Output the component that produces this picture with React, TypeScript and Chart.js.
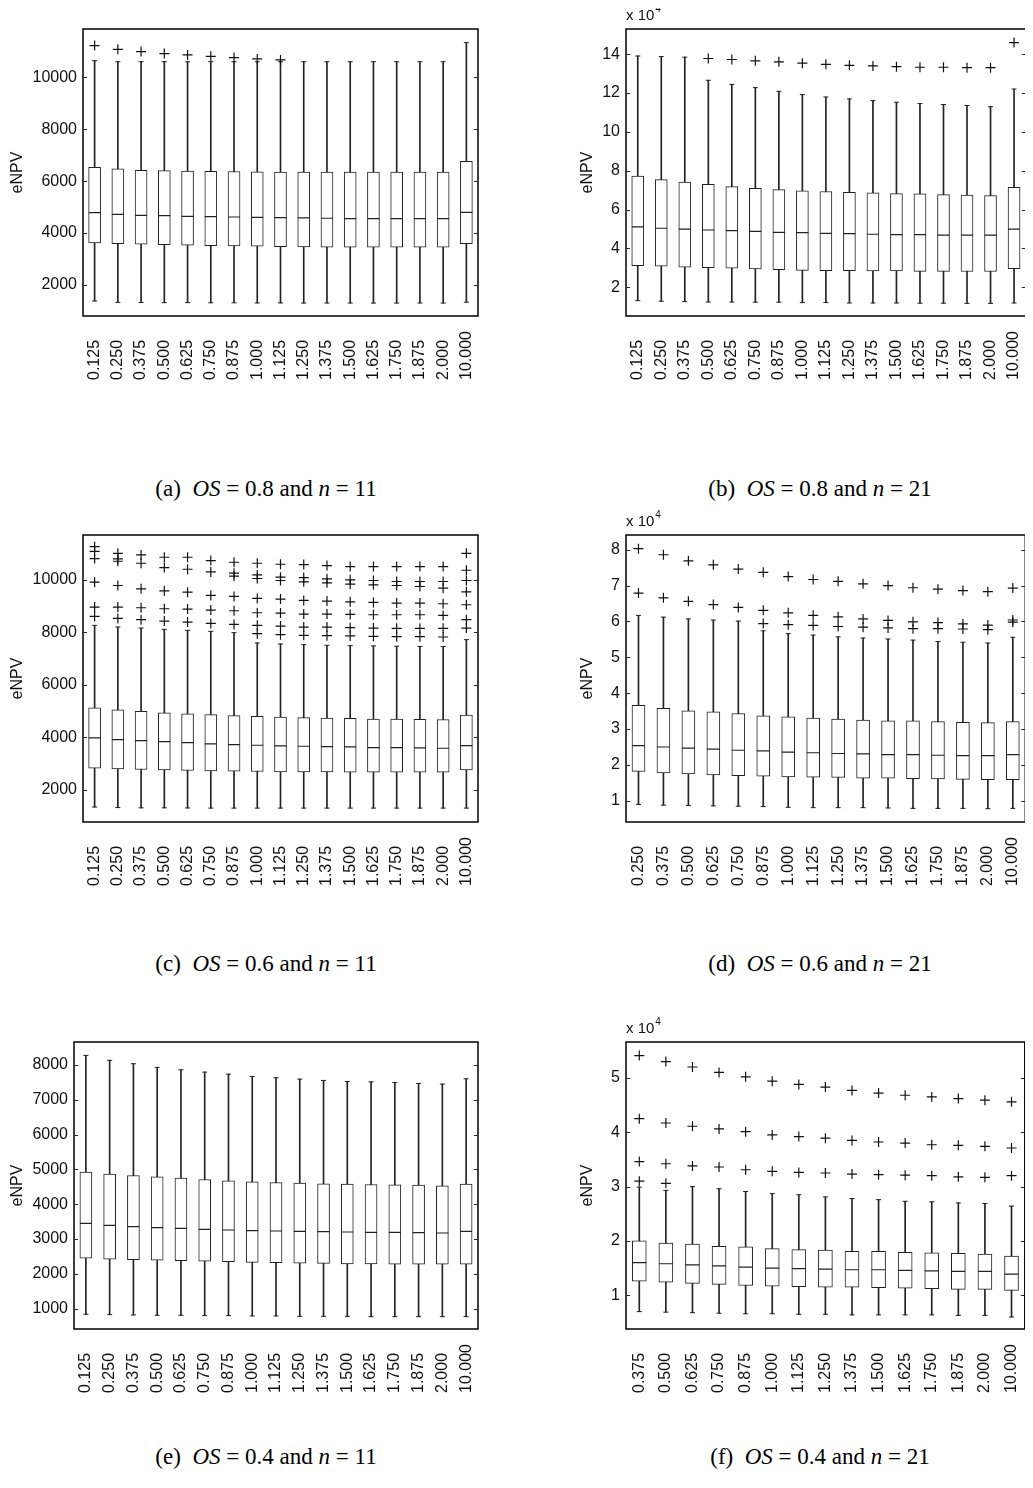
import { useEffect, useRef } from 'react';
import Chart from 'chart.js/auto';

const labels17 = ['0.125', '0.250', '0.375', '0.500', '0.625', '0.750', '0.875', '1.000', '1.125', '1.250', '1.375', '1.500', '1.625', '1.750', '1.875', '2.000', '10.000'];
const labels16 = labels17.slice(1);
const labels15 = labels17.slice(2);

// (a) OS = 0.8, n = 11
const aLo = [1384, 1330, 1325, 1320, 1320, 1315, 1315, 1310, 1310, 1305, 1305, 1305, 1305, 1305, 1305, 1305, 1340];
const aQ1 = [3619, 3593, 3568, 3555, 3530, 3517, 3505, 3492, 3480, 3467, 3455, 3455, 3455, 3455, 3455, 3455, 3593];
const aMed = [4787, 4723, 4684, 4671, 4646, 4633, 4620, 4608, 4595, 4582, 4570, 4556, 4556, 4556, 4556, 4556, 4800];
const aQ3 = [6533, 6470, 6418, 6405, 6392, 6380, 6370, 6360, 6353, 6353, 6353, 6353, 6353, 6353, 6353, 6353, 6764];
const aHi = [10642, 10600, 10600, 10600, 10600, 10600, 10600, 10600, 10600, 10600, 10600, 10600, 10600, 10600, 10600, 10600, 11335];
const aOut = [[11220], [11079], [10989], [10912], [10860], [10809], [10758], [10706], [10668], [], [], [], [], [], [], [], []];

// (b) OS = 0.8, n = 21 (x 10^4)
const bLo = [1.31, 1.28, 1.26, 1.24, 1.24, 1.23, 1.23, 1.21, 1.21, 1.19, 1.19, 1.19, 1.18, 1.18, 1.17, 1.17, 1.19];
const bQ1 = [3.11, 3.08, 3.03, 3.01, 2.98, 2.94, 2.91, 2.87, 2.86, 2.86, 2.84, 2.84, 2.82, 2.82, 2.81, 2.81, 2.96];
const bMed = [5.11, 5.04, 4.99, 4.95, 4.92, 4.88, 4.83, 4.81, 4.78, 4.76, 4.73, 4.71, 4.71, 4.69, 4.68, 4.68, 4.99];
const bQ3 = [7.72, 7.54, 7.42, 7.30, 7.18, 7.10, 7.03, 6.96, 6.93, 6.89, 6.86, 6.82, 6.81, 6.77, 6.75, 6.72, 7.15];
const bHi = [13.91, 13.88, 13.85, 12.66, 12.45, 12.28, 12.09, 11.92, 11.80, 11.70, 11.61, 11.53, 11.46, 11.41, 11.36, 11.30, 12.21];
const bOut = [[], [], [], [13.78], [13.73], [13.66], [13.61], [13.54], [13.48], [13.43], [13.40], [13.36], [13.33], [13.33], [13.31], [13.31], [14.60]];

// (c) OS = 0.6, n = 11
const cLo = [1340, 1320, 1310, 1310, 1305, 1300, 1300, 1300, 1300, 1300, 1300, 1300, 1300, 1300, 1300, 1300, 1300];
const cQ1 = [2822, 2797, 2771, 2759, 2733, 2721, 2708, 2695, 2683, 2683, 2683, 2670, 2670, 2670, 2670, 2670, 2759];
const cMed = [3974, 3911, 3873, 3835, 3797, 3746, 3721, 3695, 3670, 3657, 3645, 3632, 3607, 3607, 3595, 3582, 3683];
const cQ3 = [5126, 5050, 4987, 4936, 4898, 4860, 4822, 4797, 4771, 4746, 4733, 4721, 4695, 4695, 4683, 4670, 4847];
const cHi = [8266, 8202, 8164, 8114, 8076, 8037, 7987, 7595, 7557, 7532, 7506, 7493, 7481, 7470, 7460, 7460, 7721];
const cOut = [
  [11266, 11089, 10810, 9911, 8962, 8607],
  [11013, 10798, 10709, 9785, 8962, 8531],
  [10950, 10633, 9658, 8937, 8481],
  [10861, 10468, 9582, 8899, 8430],
  [10861, 10405, 9532, 8886, 8392],
  [10734, 10304, 9405, 8848, 8341],
  [10671, 10253, 10139, 9367, 8823, 8303],
  [10633, 10190, 10051, 9291, 8747, 8266, 7949],
  [10595, 10101, 9975, 9266, 8734, 8240, 7911],
  [10582, 10089, 9924, 9215, 8696, 8202, 7886],
  [10544, 10038, 9886, 9190, 8696, 8202, 7873],
  [10506, 10000, 9835, 9164, 8683, 8177, 7861],
  [10506, 9975, 9810, 9139, 8671, 8164, 7848],
  [10506, 9937, 9785, 9114, 8671, 8152, 7835],
  [10506, 9937, 9747, 9114, 8671, 8152, 7835],
  [10506, 9937, 9684, 9089, 8645, 8152, 7822],
  [11013, 10367, 9975, 9544, 9051, 8481, 8164],
];

// (d) OS = 0.6, n = 21 (x 10^4)
const dLo = [0.90, 0.88, 0.87, 0.86, 0.85, 0.84, 0.82, 0.81, 0.81, 0.81, 0.80, 0.79, 0.79, 0.79, 0.78, 0.79];
const dQ1 = [1.82, 1.78, 1.75, 1.72, 1.70, 1.69, 1.67, 1.66, 1.65, 1.63, 1.63, 1.62, 1.61, 1.60, 1.59, 1.59];
const dMed = [2.54, 2.50, 2.47, 2.44, 2.41, 2.39, 2.36, 2.34, 2.32, 2.31, 2.29, 2.29, 2.27, 2.26, 2.26, 2.29];
const dQ3 = [3.66, 3.58, 3.51, 3.48, 3.43, 3.37, 3.34, 3.31, 3.28, 3.25, 3.23, 3.23, 3.21, 3.19, 3.18, 3.21];
const dHi = [6.17, 6.12, 6.07, 6.04, 6.01, 5.74, 5.66, 5.62, 5.57, 5.54, 5.51, 5.48, 5.44, 5.42, 5.40, 5.56];
const dOut = [
  [8.03, 6.79], [7.86, 6.66], [7.69, 6.56], [7.58, 6.47], [7.46, 6.39],
  [7.37, 6.31, 5.94], [7.25, 6.24, 5.91], [7.17, 6.17, 5.89], [7.12, 6.13, 5.86],
  [7.05, 6.07, 5.84], [7.00, 6.03, 5.82], [6.94, 5.99, 5.80], [6.90, 5.97, 5.80],
  [6.86, 5.93, 5.79], [6.83, 5.90, 5.77], [6.93, 6.04, 5.98],
];

// (e) OS = 0.4, n = 11
const eLo = [837, 827, 818, 808, 808, 798, 798, 789, 789, 779, 779, 779, 769, 769, 769, 769, 769];
const eQ1 = [2452, 2423, 2404, 2394, 2375, 2365, 2346, 2327, 2317, 2308, 2298, 2288, 2288, 2279, 2279, 2279, 2279];
const eMed = [3452, 3394, 3356, 3327, 3308, 3279, 3260, 3240, 3231, 3221, 3212, 3202, 3192, 3192, 3183, 3173, 3221];
const eQ3 = [4923, 4865, 4827, 4789, 4750, 4712, 4673, 4644, 4625, 4606, 4587, 4577, 4567, 4558, 4548, 4529, 4577];
const eHi = [8279, 8135, 8038, 7933, 7865, 7798, 7740, 7673, 7635, 7596, 7558, 7529, 7519, 7500, 7471, 7452, 7606];
const eOut: number[][] = labels17.map(() => []);

// (f) OS = 0.4, n = 21 (x 10^4)
const fLo = [0.70, 0.69, 0.68, 0.67, 0.66, 0.66, 0.65, 0.65, 0.64, 0.64, 0.64, 0.64, 0.63, 0.63, 0.60];
const fQ1 = [1.26, 1.24, 1.22, 1.20, 1.18, 1.17, 1.16, 1.15, 1.15, 1.14, 1.13, 1.12, 1.11, 1.11, 1.09];
const fMed = [1.60, 1.58, 1.56, 1.54, 1.52, 1.50, 1.49, 1.48, 1.47, 1.47, 1.46, 1.45, 1.44, 1.44, 1.39];
const fQ3 = [2.00, 1.96, 1.94, 1.90, 1.89, 1.86, 1.84, 1.83, 1.81, 1.81, 1.79, 1.78, 1.77, 1.76, 1.72];
const fHi = [2.99, 2.93, 3.00, 2.96, 2.91, 2.87, 2.85, 2.81, 2.78, 2.76, 2.73, 2.72, 2.70, 2.69, 2.64];
const fOut = [
  [5.41, 4.25, 3.46, 3.10], [5.30, 4.17, 3.42, 3.06], [5.20, 4.11, 3.38], [5.10, 4.06, 3.36],
  [5.02, 4.01, 3.31], [4.94, 3.95, 3.28], [4.88, 3.92, 3.26], [4.83, 3.89, 3.25],
  [4.77, 3.85, 3.23], [4.72, 3.82, 3.22], [4.68, 3.80, 3.21], [4.65, 3.77, 3.20],
  [4.62, 3.76, 3.18], [4.59, 3.74, 3.17], [4.56, 3.71, 3.20],
];

const ticksA = [2000, 4000, 6000, 8000, 10000];
const ticksB = [2, 4, 6, 8, 10, 12, 14];
const ticksD = [1, 2, 3, 4, 5, 6, 7, 8];
const ticksE = [1000, 2000, 3000, 4000, 5000, 6000, 7000, 8000];
const ticksF = [1, 2, 3, 4, 5];

const INK = '#222';
const FONT = '"Liberation Sans", Arial, sans-serif';

type PanelProps = {
  labels: string[]; lo: number[]; q1: number[]; med: number[]; q3: number[]; hi: number[];
  out: number[][]; yMin: number; yMax: number; yTicks: number[];
  width: number; frameLeft: number; frameRight: number; titleOffset: number; boxW: number; exp: boolean;
};

const H = 420;
const TOP = 29;
const BOTTOM = 104;

const BoxPanel = (p: PanelProps) => {
  const ref = useRef<HTMLCanvasElement | null>(null);
  useEffect(() => {
    if (!ref.current) return;
    const outliers: { x: string; y: number }[] = [];
    p.out.forEach((arr, i) => arr.forEach((v) => outliers.push({ x: p.labels[i], y: v })));
    const framePlugin = {
      id: 'frame',
      afterDraw(chart: any) {
        const { ctx, chartArea: a } = chart;
        const y = chart.scales.y;
        const x = chart.scales.x;
        ctx.save();
        ctx.strokeStyle = '#000';
        ctx.lineWidth = 1.5;
        ctx.strokeRect(a.left, a.top, a.right - a.left, a.bottom - a.top);
        ctx.lineWidth = 1;
        ctx.strokeStyle = INK;
        p.yTicks.forEach((v) => {
          const py = Math.round(y.getPixelForValue(v)) + 0.5;
          ctx.beginPath();
          ctx.moveTo(a.left, py); ctx.lineTo(a.left + 4, py);
          ctx.moveTo(a.right, py); ctx.lineTo(a.right - 4, py);
          ctx.stroke();
        });
        ctx.fillStyle = '#111';
        ctx.font = `16px ${FONT}`;
        ctx.textAlign = 'left';
        ctx.textBaseline = 'middle';
        p.labels.forEach((l, i) => {
          ctx.save();
          ctx.translate(x.getPixelForValue(i), a.bottom + 64);
          ctx.rotate(-Math.PI / 2);
          ctx.fillText(l, 0, 0);
          ctx.restore();
        });
        ctx.save();
        ctx.translate(a.left - p.titleOffset, (a.top + a.bottom) / 2);
        ctx.rotate(-Math.PI / 2);
        ctx.textAlign = 'center';
        ctx.font = `16px ${FONT}`;
        ctx.fillText('eNPV', 0, 0);
        ctx.restore();
        if (p.exp) {
          ctx.font = `15px ${FONT}`;
          ctx.textBaseline = 'alphabetic';
          ctx.fillText('x 10', a.left, a.top - 9);
          const w = ctx.measureText('x 10').width;
          ctx.font = `10px ${FONT}`;
          ctx.fillText('4', a.left + w + 1, a.top - 17);
        }
        ctx.restore();
      },
    };
    const chart = new Chart(ref.current, {
      type: 'bar',
      data: {
        labels: p.labels,
        datasets: [
          { type: 'bar', data: p.labels.map((_, i) => [p.lo[i], p.hi[i]]) as any, backgroundColor: INK, barThickness: 1, grouped: false, order: 4 } as any,
          { type: 'bar', data: p.labels.map((_, i) => [p.q1[i], p.q3[i]]) as any, backgroundColor: '#fff', borderColor: INK, borderWidth: 1, borderSkipped: false, barThickness: p.boxW, grouped: false, order: 3 } as any,
          { type: 'line', data: p.med, showLine: false, pointStyle: 'line', pointRadius: p.boxW / 2, borderColor: INK, borderWidth: 1.2, order: 1 } as any,
          { type: 'line', data: p.hi, showLine: false, pointStyle: 'line', pointRadius: 2.5, borderColor: INK, borderWidth: 1, order: 1 } as any,
          { type: 'line', data: p.lo, showLine: false, pointStyle: 'line', pointRadius: 2.5, borderColor: INK, borderWidth: 1, order: 1 } as any,
          { type: 'line', data: outliers as any, showLine: false, pointStyle: 'cross', pointRadius: 5, borderColor: '#111', borderWidth: 1.2, order: 0 } as any,
        ],
      },
      options: {
        animation: false,
        responsive: false,
        events: [],
        layout: { padding: { top: TOP, bottom: BOTTOM, left: 0, right: p.width - p.frameRight } },
        plugins: { legend: { display: false }, tooltip: { enabled: false } },
        scales: {
          x: { display: false, offset: true },
          y: {
            min: p.yMin, max: p.yMax,
            grid: { display: false, drawTicks: false },
            border: { display: false },
            afterBuildTicks: (s: any) => { s.ticks = p.yTicks.map((v) => ({ value: v })); },
            afterFit: (s: any) => { s.width = p.frameLeft; },
            ticks: { padding: 6, color: '#111', font: { family: FONT, size: 16 }, callback: (v: any) => String(v) },
          },
        },
      },
      plugins: [framePlugin],
    } as any);
    return () => chart.destroy();
  }, []);
  return <canvas ref={ref} width={p.width} height={H} style={{ display: 'block', width: p.width, height: H }} />;
};

const Caption = ({ tag, os, n }: { tag: string; os: string; n: string }) => (
  <div style={{ fontFamily: '"Liberation Serif", "DejaVu Serif", serif', fontSize: 23, whiteSpace: 'nowrap' }}>
    ({tag})&nbsp; <i>OS</i> = {os} and <i>n</i> = {n}
  </div>
);

export default function App() {
  const rows = [0, 506, 1013];
  const caps = [490, 965, 1458];
  const left = { width: 500, frameLeft: 83, frameRight: 478, titleOffset: 65 };
  const right = { width: 493, frameLeft: 86, frameRight: 489, titleOffset: 38 };
  const cell = (x: number, y: number, node: any) => (
    <div style={{ position: 'absolute', left: x, top: y }}>{node}</div>
  );
  const cap = (cx: number, cy: number, node: any) => (
    <div style={{ position: 'absolute', left: cx - 250, top: cy - 14, width: 500, display: 'flex', justifyContent: 'center' }}>{node}</div>
  );
  return (
    <div style={{ position: 'relative', width: 1033, height: 1488, margin: -8, background: '#fff', overflow: 'hidden' }}>
      {cell(0, rows[0], <BoxPanel labels={labels17} lo={aLo} q1={aQ1} med={aMed} q3={aQ3} hi={aHi} out={aOut} yMin={806} yMax={11860} yTicks={ticksA} boxW={12} exp={false} {...left} />)}
      {cell(540, rows[0], <BoxPanel labels={labels17} lo={bLo} q1={bQ1} med={bMed} q3={bQ3} hi={bHi} out={bOut} yMin={0.52} yMax={15.3} yTicks={ticksB} boxW={12} exp={true} {...right} />)}
      {cell(0, rows[1], <BoxPanel labels={labels17} lo={cLo} q1={cQ1} med={cMed} q3={cQ3} hi={cHi} out={cOut} yMin={770} yMax={11710} yTicks={ticksA} boxW={12} exp={false} {...left} />)}
      {cell(540, rows[1], <BoxPanel labels={labels16} lo={dLo} q1={dQ1} med={dMed} q3={dQ3} hi={dHi} out={dOut} yMin={0.41} yMax={8.41} yTicks={ticksD} boxW={13} exp={true} {...right} />)}
      {cell(0, rows[2], <BoxPanel labels={labels17} lo={eLo} q1={eQ1} med={eMed} q3={eQ3} hi={eHi} out={eOut} yMin={414} yMax={8663} yTicks={ticksE} boxW={12} exp={false} width={500} frameLeft={74} frameRight={478} titleOffset={56} />)}
      {cell(540, rows[2], <BoxPanel labels={labels15} lo={fLo} q1={fQ1} med={fMed} q3={fQ3} hi={fHi} out={fOut} yMin={0.38} yMax={5.66} yTicks={ticksF} boxW={14} exp={true} {...right} />)}
      {cap(266, caps[0], <Caption tag="a" os="0.8" n="11" />)}
      {cap(820, caps[0], <Caption tag="b" os="0.8" n="21" />)}
      {cap(266, caps[1], <Caption tag="c" os="0.6" n="11" />)}
      {cap(820, caps[1], <Caption tag="d" os="0.6" n="21" />)}
      {cap(266, caps[2], <Caption tag="e" os="0.4" n="11" />)}
      {cap(820, caps[2], <Caption tag="f" os="0.4" n="21" />)}
    </div>
  );
}
